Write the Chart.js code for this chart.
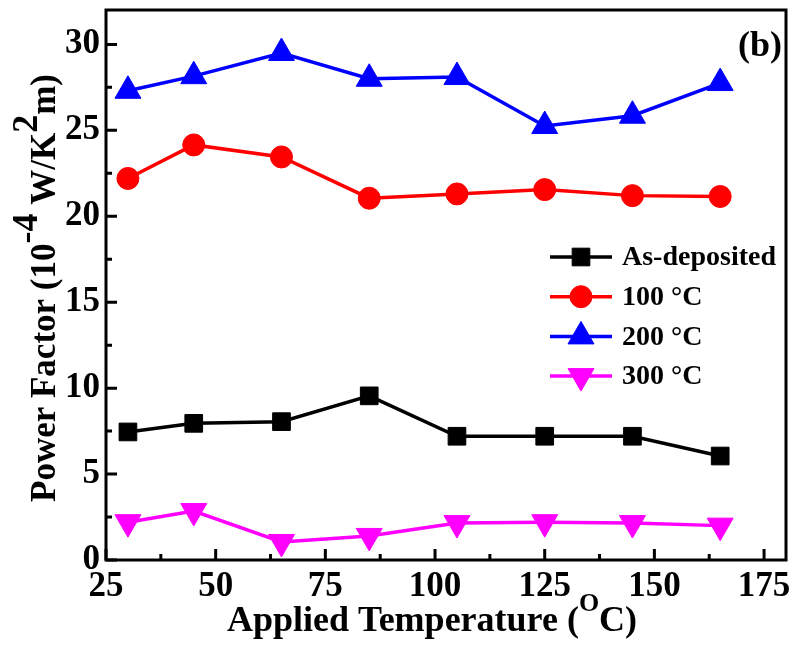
<!DOCTYPE html>
<html>
<head>
<meta charset="utf-8">
<script src="https://cdn.jsdelivr.net/npm/chart.js@4/dist/chart.umd.min.js"></script>
<style>
html,body{margin:0;padding:0;background:#fff;}
#wrap{width:795px;height:646px;}
</style>
</head>
<body>
<div id="wrap"><canvas id="c" width="795" height="646"></canvas></div>
<script>
const temps = [30, 45, 65, 85, 105, 125, 145, 165];
const asDeposited = [7.45, 7.95, 8.05, 9.55, 7.2, 7.2, 7.2, 6.05];
const pf100 = [22.2, 24.15, 23.45, 21.05, 21.3, 21.55, 21.2, 21.15];
const pf200 = [27.3, 28.15, 29.5, 28.0, 28.1, 25.25, 25.85, 27.75];
const pf300 = [2.2, 2.85, 1.05, 1.4, 2.15, 2.2, 2.15, 2.0];
const seriesLabels = ['As-deposited', '100 °C', '200 °C', '300 °C'];
const xTicks = [25, 50, 75, 100, 125, 150, 175];
const yTicks = [0, 5, 10, 15, 20, 25, 30];
const panelLabel = '(b)';
const xTitleParts = [['Applied Temperature (', 0], ['O', 1], ['C)', 0]];
const yTitleParts = [['Power Factor (10', 0], ['-4', 1], [' W/K', 0], ['2', 1], ['m)', 0]];

const FONT = '"Liberation Serif", "Times New Roman", serif';

function pts(ys){ return temps.map((x,i)=>({x:x, y:ys[i]})); }

const styles = [
  {color:'#000000', pointStyle:'rect', radius:12.5, rotation:0},
  {color:'#ff0000', pointStyle:'circle', radius:11, rotation:0},
  {color:'#0000ff', pointStyle:'triangle', radius:15, rotation:0},
  {color:'#ff00ff', pointStyle:'triangle', radius:15, rotation:180}
];
const allData = [asDeposited, pf100, pf200, pf300];

const datasets = allData.map((d,i)=>({
  label: seriesLabels[i],
  data: pts(d),
  borderColor: styles[i].color,
  backgroundColor: styles[i].color,
  pointBackgroundColor: styles[i].color,
  pointBorderColor: styles[i].color,
  pointStyle: styles[i].pointStyle,
  pointRadius: styles[i].radius,
  pointRotation: styles[i].rotation,
  pointBorderWidth: 1,
  borderWidth: 3.5,
  tension: 0,
  clip: false
}));

function drawParts(ctx, parts, cx, baseY, mainSize, supSize, supRaise) {
  let total = 0;
  const widths = parts.map(p => {
    ctx.font = 'bold ' + (p[1] ? supSize : mainSize) + 'px ' + FONT;
    const w = ctx.measureText(p[0]).width;
    total += w;
    return w;
  });
  let x = cx - total / 2;
  parts.forEach((p, i) => {
    ctx.font = 'bold ' + (p[1] ? supSize : mainSize) + 'px ' + FONT;
    ctx.fillText(p[0], x, baseY - (p[1] ? supRaise : 0));
    x += widths[i];
  });
}

const framePlugin = {
  id: 'frame',
  afterDraw(chart){
    const ctx = chart.ctx;
    const a = chart.chartArea;
    const xs = chart.scales.x, ys = chart.scales.y;
    ctx.save();
    ctx.strokeStyle = '#000';
    ctx.lineWidth = 3;
    ctx.strokeRect(a.left, a.top, a.right - a.left, a.bottom - a.top);
    ctx.beginPath();
    for (let i = 0; i < xTicks.length; i++) {
      const px = xs.getPixelForValue(xTicks[i]);
      ctx.moveTo(px, a.bottom); ctx.lineTo(px, a.bottom - 11);
      const m = xTicks[i] + 12.5;
      if (m < xs.max) {
        const pm = xs.getPixelForValue(m);
        ctx.moveTo(pm, a.bottom); ctx.lineTo(pm, a.bottom - 6);
      }
    }
    for (let i = 0; i < yTicks.length; i++) {
      const py = ys.getPixelForValue(yTicks[i]);
      ctx.moveTo(a.left, py); ctx.lineTo(a.left + 11, py);
      const m = yTicks[i] + 2.5;
      if (m < ys.max) {
        const pm = ys.getPixelForValue(m);
        ctx.moveTo(a.left, pm); ctx.lineTo(a.left + 6, pm);
      }
    }
    ctx.stroke();

    // panel label
    ctx.fillStyle = '#000';
    ctx.font = 'bold 36px ' + FONT;
    ctx.textAlign = 'right';
    ctx.textBaseline = 'alphabetic';
    ctx.fillText(panelLabel, a.right - 4, a.top + 46);

    // axis titles with superscripts
    ctx.textAlign = 'left';
    drawParts(ctx, xTitleParts, 432, 631, 36, 26, 20);
    ctx.save();
    ctx.translate(55, 288);
    ctx.rotate(-Math.PI / 2);
    drawParts(ctx, yTitleParts, 0, 0, 35, 36, 18);
    ctx.restore();

    // legend
    const lx0 = 550, lx1 = 612, ly0 = 257, ldy = 39.7;
    ctx.textAlign = 'left';
    ctx.textBaseline = 'middle';
    chart.data.datasets.forEach((ds, i) => {
      const y = ly0 + i * ldy;
      ctx.strokeStyle = ds.borderColor;
      ctx.lineWidth = 3.5;
      ctx.beginPath(); ctx.moveTo(lx0, y); ctx.lineTo(lx1, y); ctx.stroke();
      ctx.fillStyle = ds.borderColor;
      ctx.strokeStyle = ds.borderColor;
      ctx.lineWidth = 1;
      Chart.helpers.drawPoint(ctx, {pointStyle: ds.pointStyle, rotation: ds.pointRotation, radius: ds.pointRadius, borderWidth: 1}, (lx0 + lx1) / 2, y);
      ctx.fillStyle = '#000';
      ctx.font = 'bold 28px ' + FONT;
      ctx.fillText(ds.label, 622, y + 1);
    });
    ctx.restore();
  }
};

new Chart(document.getElementById('c'), {
  type: 'line',
  data: { datasets: datasets },
  plugins: [framePlugin],
  options: {
    responsive: false,
    animation: false,
    devicePixelRatio: 1,
    layout: { autoPadding: false, padding: { top: 10, right: 9, left: 0, bottom: 0 } },
    plugins: { legend: { display: false }, tooltip: { enabled: false } },
    scales: {
      x: {
        type: 'linear',
        min: 25, max: 180,
        afterBuildTicks(s){ s.ticks = xTicks.map(v => ({value: v})); },
        afterFit(s){ s.height = 86; s.paddingLeft = 0; s.paddingRight = 0; },
        grid: { display: false, drawTicks: false },
        border: { display: false },
        ticks: { color: '#000', padding: 6, font: { family: FONT, size: 35, weight: 'bold' }, maxRotation: 0, autoSkip: false },
        title: { display: false }
      },
      y: {
        type: 'linear',
        min: 0, max: 32,
        afterBuildTicks(s){ s.ticks = yTicks.map(v => ({value: v})); },
        afterFit(s){ s.width = 106; s.paddingTop = 0; s.paddingBottom = 0; },
        grid: { display: false, drawTicks: false },
        border: { display: false },
        ticks: { color: '#000', padding: 6, font: { family: FONT, size: 35, weight: 'bold' } },
        title: { display: false }
      }
    }
  }
});
</script>
</body>
</html>
